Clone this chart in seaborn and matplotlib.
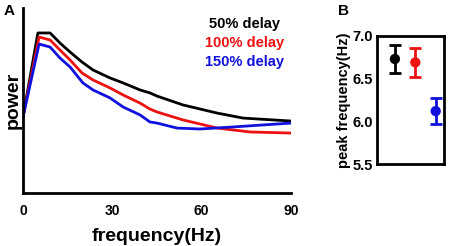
import numpy as np
import pandas as pd
import seaborn as sns
import matplotlib
matplotlib.use("Agg")
import matplotlib.pyplot as plt

sns.set_theme(style="white")
plt.rcParams['font.family'] = ['Liberation Sans', 'DejaVu Sans']
plt.rcParams['font.weight'] = 'bold'
plt.rcParams['text.color'] = 'black'
plt.rcParams['axes.labelcolor'] = 'black'
plt.rcParams['xtick.color'] = 'black'
plt.rcParams['ytick.color'] = 'black'

# Panel A data (power, arbitrary units)
freq_50 = [0, 5.0, 9.1, 12.4, 15.8, 19.8, 23.5, 29.2, 33.6, 39.3, 42.6, 45.0, 53.7, 65.2, 73.9, 90]
pow_50 = [0.411, 0.865, 0.865, 0.811, 0.762, 0.708, 0.665, 0.622, 0.595, 0.557, 0.541, 0.524, 0.476, 0.432, 0.405, 0.389]
freq_100 = [0, 5.4, 9.1, 12.4, 15.8, 19.8, 23.5, 29.2, 33.6, 39.3, 42.6, 45.0, 53.7, 65.2, 76.2, 90]
pow_100 = [0.411, 0.843, 0.827, 0.773, 0.719, 0.649, 0.611, 0.568, 0.530, 0.486, 0.454, 0.438, 0.395, 0.351, 0.330, 0.324]
freq_150 = [0, 5.4, 9.1, 12.4, 15.8, 20.1, 23.5, 29.2, 33.6, 39.3, 42.6, 45.0, 51.7, 59.4, 70.5, 90]
pow_150 = [0.411, 0.805, 0.789, 0.730, 0.681, 0.595, 0.557, 0.514, 0.465, 0.422, 0.384, 0.378, 0.351, 0.346, 0.357, 0.378]
series = ['50% delay', '100% delay', '150% delay']
colors = ['black', '#ee1111', '#1111dd']

# Panel B data
peak_mean = [6.73, 6.69, 6.12]
peak_err = [0.16, 0.165, 0.155]

df = pd.concat([
    pd.DataFrame({'f': freq_50, 'p': pow_50, 's': series[0]}),
    pd.DataFrame({'f': freq_100, 'p': pow_100, 's': series[1]}),
    pd.DataFrame({'f': freq_150, 'p': pow_150, 's': series[2]}),
])

fig = plt.figure(figsize=(4.52, 2.46), dpi=100)
axA = fig.add_axes([0.0509, 0.2154, 0.5931, 0.7521])
sns.lineplot(data=df, x='f', y='p', hue='s', palette=colors, hue_order=series,
             ax=axA, lw=2.0, legend=False, sort=False)
axA.set_xlim(0, 90)
axA.set_ylim(0, 1)
axA.set_xticks([0, 30, 60, 90])
axA.set_xticklabels(['0', '30', '60', '90'], fontsize=10, fontweight='bold')
axA.set_yticks([0, 1])
axA.set_yticklabels([])
axA.tick_params(axis='x', direction='in', length=3, width=2, pad=8)
axA.tick_params(axis='y', direction='in', length=3, width=2, pad=0)
for s in ['top', 'right']:
    axA.spines[s].set_visible(False)
for s in ['left', 'bottom']:
    axA.spines[s].set_linewidth(2)
    axA.spines[s].set_color('black')
axA.set_xlabel('frequency(Hz)', fontsize=14, fontweight='bold', labelpad=7)
axA.set_ylabel('power', fontsize=14, fontweight='bold', labelpad=1)
for lab, c, yy in zip(series, colors, [0.914, 0.811, 0.708]):
    axA.text(0.825, yy, lab, color=c, ha='center', va='center',
             fontsize=10.5, fontweight='bold', transform=axA.transAxes)
fig.text(0.008, 0.955, 'A', fontsize=11, fontweight='bold', va='center')

axB = fig.add_axes([0.834, 0.333, 0.148, 0.521])
xpos = [1, 2, 3]
for x, m, e, c in zip(xpos, peak_mean, peak_err, colors):
    axB.errorbar(x, m, yerr=e, fmt='none', ecolor=c, elinewidth=2, capsize=4, capthick=2)
sns.scatterplot(x=xpos, y=peak_mean, hue=series, palette=colors, hue_order=series,
                ax=axB, s=55, legend=False, edgecolor='none')
axB.set_xlim(0.12, 3.4)
axB.set_ylim(5.5, 7.0)
axB.set_yticks([5.5, 6.0, 6.5, 7.0])
axB.set_yticklabels(['5.5', '6.0', '6.5', '7.0'], fontsize=10.5, fontweight='bold')
axB.set_xticks([])
axB.tick_params(axis='y', direction='in', length=3, width=2, pad=3)
for s in axB.spines.values():
    s.set_linewidth(2)
    s.set_color('black')
axB.set_ylabel('peak frequency(Hz)', fontsize=10.5, fontweight='bold', labelpad=1)
fig.text(0.748, 0.955, 'B', fontsize=11, fontweight='bold', va='center')

fig.savefig('out.png', dpi=100)
